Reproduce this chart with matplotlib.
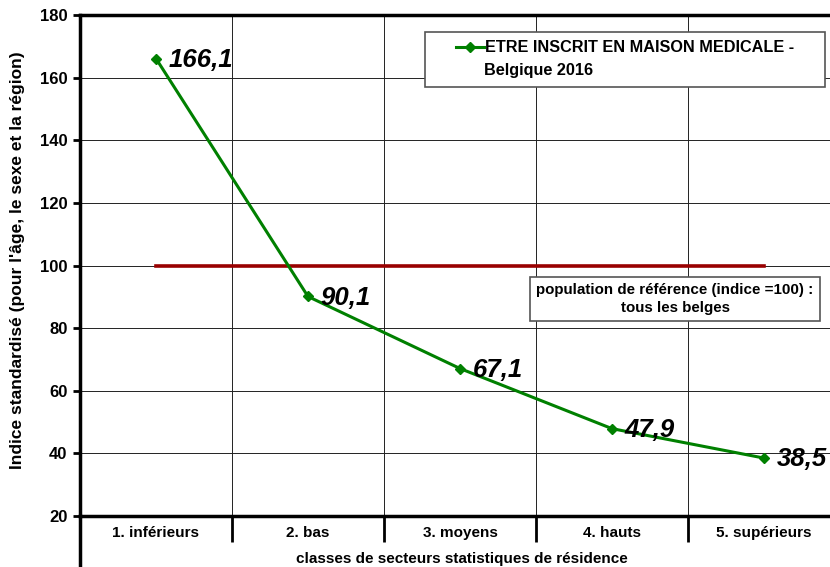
import numpy as np
import matplotlib.pyplot as plt
from matplotlib.lines import Line2D

plt.rcParams['font.family'] = ['Liberation Sans', 'DejaVu Sans']

# donnees
classes = ['1. inférieurs', '2. bas', '3. moyens', '4. hauts', '5. supérieurs']
indice = [166.1, 90.1, 67.1, 47.9, 38.5]
etiquettes = ['166,1', '90,1', '67,1', '47,9', '38,5']
reference = [100, 100, 100, 100, 100]
y_ticks = [20, 40, 60, 80, 100, 120, 140, 160, 180]

W, H = 830, 567
fig = plt.figure(figsize=(W / 100, H / 100), dpi=100)
# l'axe depasse a droite comme dans l'original
ax = fig.add_axes([80 / W, 1 - 516 / H, 760 / W, 501 / H])

x = np.arange(len(classes))
ax.plot(x, reference, color='#990000', lw=2.6, zorder=3)
serie, = ax.plot(x, indice, color='#008000', lw=2.2, marker='D', ms=5, zorder=4)

for xi, yi, t in zip(x, indice, etiquettes):
    ax.annotate(t, (xi, yi), xytext=(9, -1), textcoords='offset points',
                fontsize=18.5, fontweight='bold', fontstyle='italic',
                va='center', ha='left', zorder=5)

ax.set_xlim(-0.5, len(classes) - 0.5)
ax.set_ylim(20, 180)
ax.set_yticks(y_ticks)
ax.set_yticklabels([str(v) for v in y_ticks], fontsize=12, fontweight='bold')
ax.tick_params(axis='y', length=5, width=2, direction='out', pad=4)

ax.set_xticks(x)
ax.set_xticklabels(classes, fontsize=11, fontweight='bold', va='center')
ax.set_xticks(np.arange(len(classes) + 1) - 0.5, minor=True)
ax.tick_params(axis='x', which='major', length=0, pad=12)
ax.tick_params(axis='x', which='minor', length=19, width=2, direction='out')

ax.grid(axis='y', color='#222222', lw=0.7)
ax.grid(axis='x', which='minor', color='#222222', lw=0.7)
ax.set_axisbelow(True)

for s in ['left', 'bottom', 'top']:
    ax.spines[s].set_linewidth(2.5)
ax.spines['right'].set_visible(False)

# prolongement de l'axe vertical sous les categories
fig.add_artist(Line2D([80 / W, 80 / W], [0, 1 - 516 / H], color='black', lw=2.5))

fig.text(18 / W, 1 - 260 / H, "Indice standardisé (pour l'âge, le sexe et la région)",
         fontsize=12.5, fontweight='bold', rotation=90, ha='center', va='center')
fig.text(462 / W, 1 - 559 / H, 'classes de secteurs statistiques de résidence',
         fontsize=11, fontweight='bold', ha='center', va='center')

# cadre de la legende (plus large que le texte, comme dans l'original)
fig.patches.append(plt.Rectangle((425 / W, 1 - 87 / H), 400 / W, 55 / H,
                                 transform=fig.transFigure, fc='white',
                                 ec='#555555', lw=1.2, zorder=5))
leg = fig.legend([serie], ['ETRE INSCRIT EN MAISON MEDICALE -'],
                 loc='center left', bbox_to_anchor=(456 / W, 1 - 48 / H),
                 frameon=False, handlelength=1.7, handletextpad=0.1,
                 borderpad=0, borderaxespad=0,
                 prop={'size': 11.7, 'weight': 'bold'})
leg.set_zorder(6)
# deuxieme ligne du libelle, alignee sur le texte de la legende
fig.text(484 / W, 1 - 70 / H, 'Belgique 2016', fontsize=11.7, fontweight='bold',
         ha='left', va='center', zorder=7)

fig.text(675 / W, 1 - 299 / H,
         'population de référence (indice =100) :\ntous les belges',
         fontsize=10.9, fontweight='bold', ha='center', va='center', zorder=6,
         linespacing=1.3,
         bbox=dict(boxstyle='square,pad=0.45', fc='white', ec='#555555', lw=1.2))

fig.savefig('out.png', dpi=100)
